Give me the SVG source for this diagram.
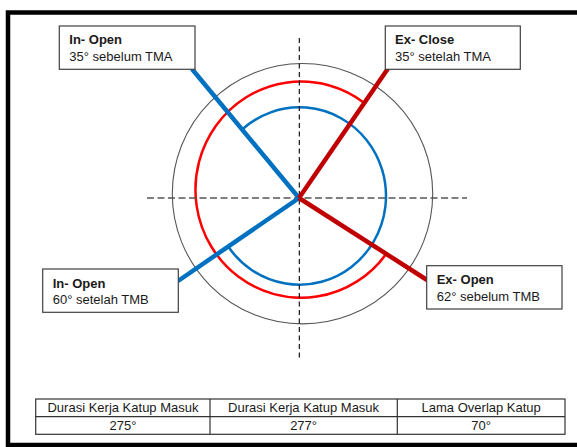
<svg xmlns="http://www.w3.org/2000/svg" width="577" height="447" viewBox="0 0 577 447">
<style>
.box{fill:#fff;stroke:#404040;stroke-width:1.2}
.t{font-family:"Liberation Sans",Arial,sans-serif;font-size:13px;fill:#1a1a1a}
.b{font-weight:bold}
.tb{font-family:"Liberation Sans",Arial,sans-serif;font-size:13px;fill:#1a1a1a;text-anchor:middle}
.blue{stroke:#0070C0;stroke-width:4.5;fill:none}
.red{stroke:#C00000;stroke-width:4.5;fill:none}
</style>
<rect x="0" y="0" width="577" height="447" fill="#fff"/>
<rect x="8" y="12.5" width="620" height="432.5" fill="#fff" stroke="#000" stroke-width="4.5"/>
<g id="rings">
<circle cx="302.5" cy="193.7" r="130.2" fill="none" stroke="#555" stroke-width="1.1"/>
<path d="M386.2,253.9 A105.7,108.1 0 1 1 364.3,103" fill="none" stroke="#FF0000" stroke-width="2.5"/>
<path d="M242.1,129.5 A86.6,88.7 0 1 1 228.2,246.5" fill="none" stroke="#0070C0" stroke-width="2.5"/>
</g>
<g id="axes">
<line x1="147" y1="198" x2="467" y2="198" stroke="#555" stroke-width="1.4" stroke-dasharray="7,3.5"/>
<line x1="299.3" y1="38" x2="299.3" y2="359" stroke="#000" stroke-width="1.1" stroke-dasharray="5,3.5"/>
</g>
<g id="connectors">
<line class="blue" x1="299" y1="198" x2="192" y2="69"/>
<line class="blue" x1="299" y1="198" x2="178" y2="281"/>
<line class="red" x1="299" y1="198" x2="388" y2="68.5"/>
<line class="red" x1="299" y1="198" x2="427" y2="280"/>
</g>
<g id="in-open-tma">
<rect class="box" x="59.3" y="26" width="135.7" height="43.3"/>
<text class="t b" x="69.3" y="44.3">In- Open</text>
<text class="t" x="69.3" y="61">35° sebelum TMA</text>
</g>
<g id="ex-close-tma">
<rect class="box" x="385.3" y="26" width="135" height="43.3"/>
<text class="t b" x="395" y="44.3">Ex- Close</text>
<text class="t" x="395" y="61">35° setelah TMA</text>
</g>
<g id="in-open-tmb">
<rect class="box" x="42.7" y="269" width="135.6" height="43.3"/>
<text class="t b" x="52.7" y="287.7">In- Open</text>
<text class="t" x="52.7" y="304.3">60° setelah TMB</text>
</g>
<g id="ex-open-tmb">
<rect class="box" x="426.7" y="265.7" width="135.3" height="43.3"/>
<text class="t b" x="436.7" y="284">Ex- Open</text>
<text class="t" x="436.7" y="300.7">62° sebelum TMB</text>
</g>
<g id="table">
<rect x="35.7" y="399" width="529.3" height="35.3" fill="#fff" stroke="#333" stroke-width="1.2"/>
<line x1="35.7" y1="416.7" x2="565" y2="416.7" stroke="#333" stroke-width="1.2"/>
<line x1="210" y1="399" x2="210" y2="434.3" stroke="#333" stroke-width="1.2"/>
<line x1="397.3" y1="399" x2="397.3" y2="434.3" stroke="#333" stroke-width="1.2"/>
<text class="tb" x="123" y="412">Durasi Kerja Katup Masuk</text>
<text class="tb" x="303.6" y="412">Durasi Kerja Katup Masuk</text>
<text class="tb" x="481.2" y="412">Lama Overlap Katup</text>
<text class="tb" x="123" y="430">275°</text>
<text class="tb" x="303.6" y="430">277°</text>
<text class="tb" x="481.2" y="430">70°</text>
</g>
</svg>
